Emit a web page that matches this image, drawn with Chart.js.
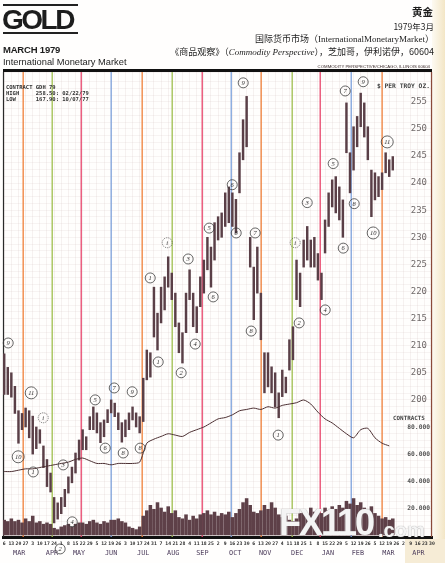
<!DOCTYPE html>
<html>
<head>
<meta charset="utf-8">
<script src="https://cdn.jsdelivr.net/npm/chart.js@4.4.1/dist/chart.umd.min.js"></script>
<style>
  html, body { margin: 0; padding: 0; }
  body { width: 445px; height: 563px; position: relative; overflow: hidden; background: #fffefd; font-family: "Liberation Sans", Arial, sans-serif; color: #1d1d1d; }
  .abs { position: absolute; white-space: nowrap; }
  .cjk { font-family: "Noto Sans CJK SC", sans-serif; }
  .ser { font-family: "Liberation Serif", serif; }
  .mono { font-family: "DejaVu Sans Mono", monospace; white-space: pre; }
  canvas { position: absolute; left: 0; top: 0; }
</style>
</head>
<body>
<div class="abs" style="left:432px;top:0;width:13px;height:563px;background:linear-gradient(to right,#fdfaf2,#f3e6c6)"></div>
<div class="abs" style="left:405px;top:539px;width:40px;height:24px;background:#f6ecd6"></div>

<canvas id="gold" width="445" height="563"></canvas>

<!-- header -->
<div class="abs" style="left:3px;top:4px;width:75px;height:1.5px;background:#222"></div>
<div class="abs" style="left:2px;top:6px;font:bold 28px/28px 'Liberation Sans';letter-spacing:-2.5px">GOLD</div>
<div class="abs" style="left:3px;top:32px;width:75px;height:1.5px;background:#222"></div>
<div class="abs" style="left:3px;top:45px;font:bold 9.5px/9.5px 'Liberation Sans';letter-spacing:-0.2px">MARCH 1979</div>
<div class="abs" style="left:3px;top:58px;font:9.3px/9.3px 'Liberation Sans'">International Monetary Market</div>

<div class="abs cjk" style="right:12px;top:5px;font-weight:bold;font-size:10.5px;line-height:14px">黄金</div>
<div class="abs cjk" style="right:11px;top:21px;font-size:8.5px;line-height:10px">1979年3月</div>
<div class="abs cjk" style="right:11px;top:34px;font-size:9px;line-height:10px">国际货币市场（<span class="ser">InternationalMonetaryMarket</span>）</div>
<div class="abs cjk" style="right:11px;top:46.5px;font-size:9px;line-height:10px">《商品观察》（<i class="ser">Commodity Perspective</i>），芝加哥，伊利诺伊，60604</div>
<div class="abs" style="right:15px;top:63.5px;font-size:4.3px;line-height:5px;color:#3a2a2a">COMMODITY PERSPECTIVE/CHICAGO, ILLINOIS 60604</div>
<div class="abs" style="left:3px;top:69px;width:429px;height:3px;background:#111"></div>

<!-- texts inside the plot -->
<div class="abs mono" style="left:6px;top:83.5px;font-size:5.5px;line-height:6.3px;font-weight:bold;color:#333">CONTRACT GDH 79
HIGH     258.50: 02/22/79
LOW      167.90: 10/07/77</div>
<div class="abs mono" style="right:15px;top:82px;font-size:6.3px;line-height:7px;font-weight:bold;color:#444">$ PER TROY OZ.</div>
<div class="abs mono" style="left:393px;top:415px;font-size:5.9px;line-height:6px;font-weight:bold;color:#444">CONTRACTS</div>

<!-- watermark -->
<div class="abs" style="left:279px;top:505px;font:bold 36px/36px 'Liberation Sans';letter-spacing:-2px;color:#f4f4f4;text-shadow:0 0 1px #888">FX110</div>
<div class="abs" style="left:378px;top:520px;font:bold 20px/20px 'Liberation Sans';color:#f4f4f4;text-shadow:0 0 1px #888">.com</div>

<script>
// weekly date labels, Mar 6 1978 .. Apr 30 1979 (x unit = weeks)
const dayLabels = ['6','13','20','27','3','10','17','24','1','8','15','22','29','5','12','19','26',
  '3','10','17','24','31','7','14','21','28','4','11','18','25','2','9','16','23','30',
  '6','13','20','27','4','11','18','25','1','8','15','22','29','5','12','19','26',
  '5','12','19','26','2','9','16','23','30'];
const monthNames = ['MAR','APR','MAY','JUN','JUL','AUG','SEP','OCT','NOV','DEC','JAN','FEB','MAR','APR'];
const monthWeeks = [2.1, 6.7, 10.5, 15.0, 19.5, 23.7, 27.8, 32.4, 36.6, 41.1, 45.4, 49.6, 53.9, 58.1];
const priceTicks = [200, 205, 210, 215, 220, 225, 230, 235, 240, 245, 250, 255];
const contractTicks = [20000, 40000, 60000, 80000];

// half-week price ranges, $/oz
const highs = [208.5,206,205,202.5,198,197.5,198.5,198,197,195,194.5,191.5,189,186.5,182,181,182,183.5,185.8,187.6,
  190.2,192.6,194.5,193.2,196.9,198.7,197.6,195.8,196.3,198.2,200,199.4,197.6,195.8,196.3,197.6,198.7,197.6,196.9,204,
  209.2,208.7,220.8,216,220.8,222.7,226.4,223.4,219.7,214.2,212.4,219.7,224,219.7,217.2,222.7,225.8,230,228.2,232.7,
  233.8,234.5,238.2,239.3,238.2,237,245.6,251.7,256,230,224.5,228.2,219.7,208.7,208.7,206.1,205,201.3,205.5,204.2,
  211.1,213.5,225.8,223.4,229.5,232,229.5,230,227,223.4,233.2,238.2,240.6,241.2,239.3,236.9,254.8,245.6,250.4,252.3,
  256.6,254.8,250.4,242.4,241.9,241.2,241.9,245.6,244.3,244.9];
const lows = [201,201,200.5,197.5,192,194.5,195,193,190,191,192,187.5,184,183,177.3,178,179,180.3,182.8,184.7,
  186.5,188.9,190.8,190.8,194.5,194.5,193.9,192.1,193.2,195.8,197.6,196.9,194.5,192.2,193.2,194.5,196.3,195,193.9,196,
  203.7,204.2,211.6,209.2,214.2,216.6,220.8,218.5,213.5,208.7,206.8,212.4,218.5,213.5,212.4,217.2,219.7,224,220.8,225.8,
  229.5,230,232,232.7,232,230.8,238.2,244.3,246.7,224.5,214.8,219.7,211.1,201.3,202.4,201.3,198.7,196.7,200.6,201.3,
  205.5,207.4,218.5,217.2,224.5,225.8,224.5,224.5,222.1,218.5,227.1,232,235.6,234.5,233.2,230,245.6,238.2,242.4,246.7,
  250.4,248.5,244.3,233.8,236.9,237.5,238.8,241.9,241.2,242.4];
// half-week volume, thousands of contracts
const volume = [11,10,12,10,11,9,12, 10,14,9,10,8,9,8, 5,4,6, 7,8,6,8,9, 9,8,10,11,9,8,10,9,11,
  11,12,10,9, 6,5,4,6, 14,18,22,19,24,20,17,21,16,18, 13,12,15,11,14,12,15, 16,18,15,17,14,16,
  15,17,13,16,19, 24,27,22, 17,16,18, 22,19,24,20, 15,13,14,11,10,12,16, 18,15,20,17,19,16,
  20,18,21,19,22,20, 25,23,27,22,24, 20,17,21,16, 14,12,13,11,12];
// weekly open interest, thousands of contracts
const openInterest = [47,47,48,49,49,50,51,52,53,54,56,57,55,53,53,52,53,53,53,54,
  68,71,73,75,74,73,76,78,80,83,86,87,89,92,93,94,93,95,94,96,
  97,98,100,97,91,86,83,79,75,72,78,79,72,68,66];

// contract month lines (week) and their colour cycle
const deliveryWeeks = [2.66, 6.73, 10.8, 15.0, 19.35, 23.56, 27.77, 31.84, 36.04, 40.39, 44.32, 48.67, 53.0];
const deliveryColors = ['#f0803a', '#9fbf4f', '#e8466c', '#7ea2dc'];

// pencilled wave counts: [week, price, label]
const waveMarks = [
  [0.56,210.5,'9'],[3.79,201.3,'11'],[5.47,196.7,'i'],[1.96,189.5,'10'],[4.07,186.7,'1'],[8.27,188,'3'],
  [9.54,177.5,'4'],[7.85,172.5,'2'],[12.76,200,'5'],[14.17,191.1,'6'],[15.43,202.2,'7'],[17.95,201.5,'9'],
  [16.69,190.2,'8'],[19.07,191.1,'8'],[20.48,222.5,'1'],[21.6,207,'1'],[22.86,229,'i'],[24.82,205,'2'],
  [25.8,226,'3'],[26.79,210.3,'4'],[28.75,231.7,'5'],[29.31,219,'6'],[31.98,239.7,'6'],[32.54,230.8,'8'],
  [33.52,258.5,'9'],[35.2,230.8,'7'],[34.64,212.7,'8'],[38.43,193.5,'1'],[40.81,229,'i'],[41.37,214.2,'2'],
  [42.5,236.4,'3'],[45.02,216.6,'4'],[46.14,243.6,'5'],[47.55,228,'6'],[47.83,257,'7'],[50.35,258.7,'9'],
  [49.09,236.2,'8'],[51.75,230.8,'10'],[53.72,247.6,'11']
];

const paperMarks = {
  id: 'paperMarks',
  beforeDatasetsDraw(chart) {
    const { ctx, chartArea: a, scales: { x } } = chart;
    ctx.save();
    ctx.lineWidth = 1.3;
    deliveryWeeks.forEach((w, i) => {
      const px = x.getPixelForValue(w);
      ctx.strokeStyle = deliveryColors[i % deliveryColors.length];
      ctx.beginPath(); ctx.moveTo(px, a.top); ctx.lineTo(px, a.bottom); ctx.stroke();
    });
    ctx.lineWidth = 1.2;
    ctx.strokeStyle = '#2a2a2a';
    ctx.beginPath(); ctx.moveTo(a.left + 0.5, a.top); ctx.lineTo(a.left + 0.5, a.bottom); ctx.stroke();
    ctx.strokeStyle = '#8a4a3a';
    ctx.beginPath(); ctx.moveTo(a.right - 0.5, a.top); ctx.lineTo(a.right - 0.5, a.bottom); ctx.stroke();
    ctx.restore();
  },
  afterDatasetsDraw(chart) {
    const { ctx, scales: { x, y } } = chart;
    ctx.save();
    ctx.strokeStyle = '#3d3d3d';
    ctx.fillStyle = '#2d2d2d';
    ctx.lineWidth = 0.8;
    ctx.font = 'italic 6.5px "Liberation Serif"';
    ctx.textAlign = 'center';
    ctx.textBaseline = 'middle';
    waveMarks.forEach(([w, p, t]) => {
      const px = x.getPixelForValue(w), py = y.getPixelForValue(p);
      ctx.setLineDash(t === 'i' ? [1, 1.2] : []);
      ctx.beginPath(); ctx.arc(px, py, t.length > 1 ? 6 : 5, 0, Math.PI * 2); ctx.stroke();
      ctx.fillText(t, px, py + 0.5);
    });
    ctx.restore();
  }
};

const noPad = s => { s.paddingLeft = 0; s.paddingRight = 0; s.paddingTop = 0; s.paddingBottom = 0; };

new Chart(document.getElementById('gold'), {
  type: 'bar',
  data: {
    datasets: [
      {
        label: 'Price',
        data: highs.map((h, i) => ({ x: i * 0.5, y: [lows[i], h] })),
        xAxisID: 'x', yAxisID: 'y',
        backgroundColor: '#5a3f47',
        barThickness: 1.8,
        grouped: false,
        order: 1
      },
      {
        label: 'Open interest',
        type: 'line',
        data: openInterest.map((v, i) => ({ x: i, y: v * 1000 })),
        xAxisID: 'x', yAxisID: 'y2',
        borderColor: '#4a2d30',
        borderWidth: 1,
        pointRadius: 0,
        tension: 0.25,
        order: 0
      },
      {
        label: 'Volume',
        data: volume.map((v, i) => ({ x: i * 0.5, y: v * 1000 })),
        xAxisID: 'x', yAxisID: 'y2',
        backgroundColor: '#5e4048',
        barThickness: 2.9,
        grouped: false,
        order: 2
      }
    ]
  },
  options: {
    responsive: false,
    animation: false,
    layout: { padding: { top: 72, left: 3, right: 13, bottom: 4 } },
    plugins: { legend: { display: false }, tooltip: { enabled: false } },
    scales: {
      x: {
        type: 'linear', position: 'bottom', min: -0.17, max: 60, offset: false, weight: 0,
        grid: { color: 'rgba(200,175,175,0.16)', drawTicks: false, offset: false },
        border: { color: '#111', width: 3 },
        afterBuildTicks: s => { s.ticks = dayLabels.map((_, i) => ({ value: i })); },
        afterFit: s => { s.height = 12; noPad(s); },
        ticks: {
          autoSkip: false, maxRotation: 0, minRotation: 0, padding: 4, color: '#2c2c2c',
          font: { family: 'DejaVu Sans Mono', size: 4.8, weight: 'bold' },
          callback: (v, i) => dayLabels[i]
        }
      },
      xm: {
        type: 'linear', position: 'bottom', min: -0.17, max: 60, offset: false, weight: 1,
        grid: { display: false, drawTicks: false, offset: false },
        border: { display: false },
        afterBuildTicks: s => { s.ticks = monthWeeks.map(v => ({ value: v })); },
        afterFit: s => { s.height = 10; noPad(s); },
        ticks: {
          autoSkip: false, maxRotation: 0, minRotation: 0, padding: 0, color: '#4d3d5c',
          font: { family: 'DejaVu Sans Mono', size: 6.8 },
          callback: (v, i) => monthNames[i]
        }
      },
      y: {
        type: 'linear', position: 'right', min: 174.7, max: 260.5,
        grid: { color: 'rgba(200,175,175,0.14)', drawTicks: false },
        border: { display: false },
        afterFit: s => { s.width = 0; noPad(s); },
        ticks: {
          stepSize: 1.25, autoSkip: false, mirror: true, padding: -5, color: '#6f6868',
          font: { family: 'DejaVu Sans Mono', size: 9 },
          callback: v => priceTicks.includes(v) ? String(v) : ''
        }
      },
      y2: {
        type: 'linear', position: 'right', min: -1481, max: 342963,
        grid: { display: false, drawTicks: false },
        border: { display: false },
        afterBuildTicks: s => { s.ticks = contractTicks.map(v => ({ value: v })); },
        afterFit: s => { s.width = 0; noPad(s); },
        ticks: {
          autoSkip: false, mirror: true, padding: -2, color: '#555',
          font: { family: 'DejaVu Sans Mono', size: 6.3, weight: 'bold' },
          callback: v => (v / 1000).toFixed(3)
        }
      }
    }
  },
  plugins: [paperMarks]
});
</script>
</body>
</html>
